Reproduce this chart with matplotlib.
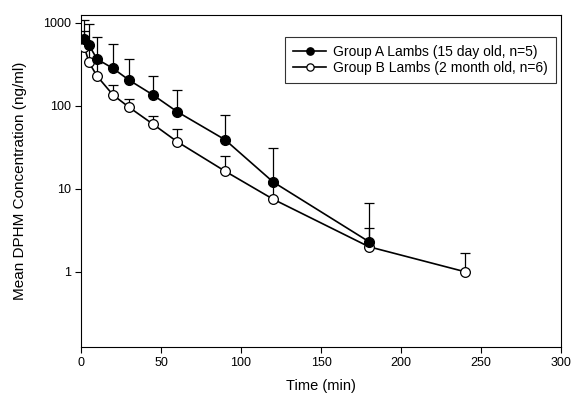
import matplotlib
matplotlib.use("Agg")
import matplotlib.pyplot as plt
import numpy as np

plt.rcParams['font.family'] = ['Liberation Sans', 'DejaVu Sans']

# Group A lambs (15 day old, n=5)
time_a = [2, 5, 10, 20, 30, 45, 60, 90, 120, 180]
conc_a = [631, 538, 365, 282, 204, 135, 85, 39, 12.1, 2.3]
err_top_a = [1075, 962, 667, 549, 362, 230, 153, 76.6, 31.2, 6.8]

# Group B lambs (2 month old, n=6)
time_b = [2, 5, 10, 20, 30, 45, 60, 90, 120, 180, 240]
conc_b = [514, 333, 228, 135, 96, 60, 37, 16.3, 7.5, 2.0, 1.0]
err_top_b = [800, 520, 330, 178, 120, 75, 52.4, 24.8, 11.5, 3.35, 1.69]

xticks = [0, 50, 100, 150, 200, 250, 300]
yticks = [1, 10, 100, 1000]
ytick_labels = ['1', '10', '100', '1000']

fig = plt.figure(figsize=(5.72, 4.01), dpi=100)
ax = fig.add_axes([81/572, 1 - 346.7/401, 480/572, 331.7/401])

ca = np.array(conc_a); cb = np.array(conc_b)
ua = np.array(err_top_a) - ca
ub = np.array(err_top_b) - cb

ax.errorbar(time_b, conc_b, yerr=[np.zeros_like(cb), ub], fmt='none',
            ecolor='black', elinewidth=0.9, capsize=3.5, capthick=0.9, zorder=2)
ax.errorbar(time_a, conc_a, yerr=[np.zeros_like(ca), ua], fmt='none',
            ecolor='black', elinewidth=0.9, capsize=3.5, capthick=0.9, zorder=2)

ax.plot(time_a, conc_a, '-o', color='black', markerfacecolor='black',
        markeredgecolor='black', markersize=7, linewidth=1.2, zorder=4,
        label='Group A Lambs (15 day old, n=5)')
ax.plot(time_b, conc_b, '-o', color='black', markerfacecolor='white',
        markeredgecolor='black', markersize=7, markeredgewidth=0.9, linewidth=1.2, zorder=3,
        label='Group B Lambs (2 month old, n=6)')

ax.set_yscale('log')
ax.set_xlim(0, 300)
ax.set_ylim(0.125, 1240)
ax.set_xticks(xticks)
ax.set_yticks(yticks)
ax.set_yticklabels(ytick_labels)
ax.yaxis.set_minor_locator(matplotlib.ticker.NullLocator())
ax.tick_params(axis='both', direction='out', length=4, width=0.8, labelsize=9)
for s in ax.spines.values():
    s.set_linewidth(0.8)

ax.set_xlabel('Time (min)', fontsize=10.5, labelpad=7)
ax.set_ylabel('Mean DPHM Concentration (ng/ml)', fontsize=11, labelpad=11)

leg = ax.legend(loc='upper right', bbox_to_anchor=(0.99, 0.935), borderaxespad=0,
                fontsize=10, frameon=True, fancybox=False, edgecolor='black',
                handlelength=2.4, handletextpad=0.5, labelspacing=0.15,
                borderpad=0.6, markerscale=0.75)
leg.get_frame().set_linewidth(0.8)

fig.savefig('out.png', dpi=100)
